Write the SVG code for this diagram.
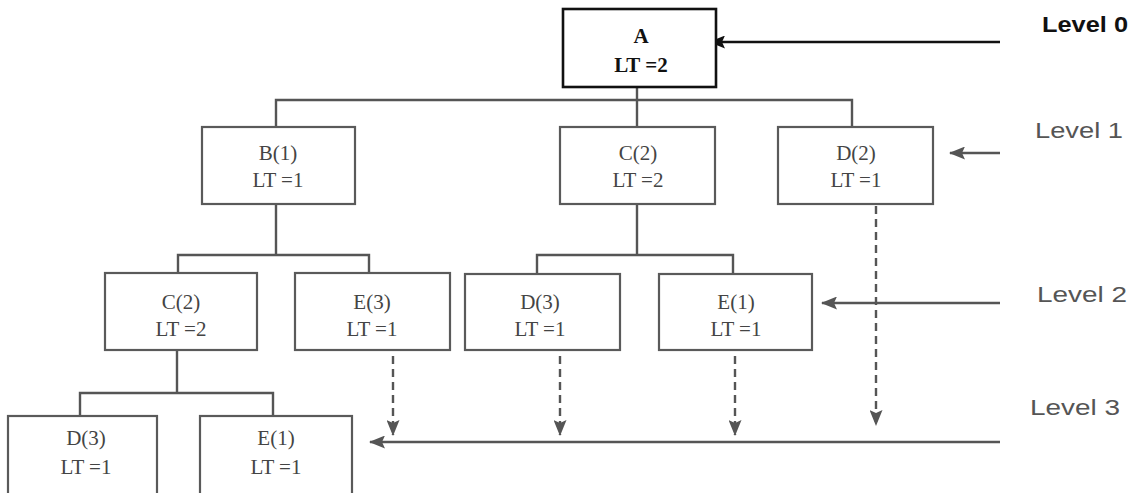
<svg xmlns="http://www.w3.org/2000/svg" width="1139" height="493" viewBox="0 0 1139 493">
<style>
.box{fill:#fff;stroke:#5a5a5a;stroke-width:2.2}
.boxA{fill:#fff;stroke:#111;stroke-width:2.6}
.t{font-family:"Liberation Serif","Times New Roman",serif;font-size:21px;fill:#444;text-anchor:middle}
.tA{font-family:"Liberation Serif","Times New Roman",serif;font-size:21px;fill:#111;text-anchor:middle;font-weight:bold}
.lvl{font-family:"Liberation Sans",Arial,sans-serif;font-size:22px;fill:#555}
.lvl0{font-family:"Liberation Sans",Arial,sans-serif;font-size:22px;fill:#111;font-weight:bold}
.c{fill:none;stroke:#555;stroke-width:2.4}
.d{fill:none;stroke:#555;stroke-width:2.4;stroke-dasharray:8,5}
.a0{fill:none;stroke:#111;stroke-width:2.6}
</style>
<defs>
<marker id="ah" viewBox="0 0 16 13" refX="15" refY="6.5" markerWidth="16" markerHeight="13" markerUnits="userSpaceOnUse" orient="auto"><path d="M0,0 L16,6.5 L0,13 L3,6.5 z" fill="#555"/></marker>
<marker id="ahk" viewBox="0 0 16 13" refX="15" refY="6.5" markerWidth="16" markerHeight="13" markerUnits="userSpaceOnUse" orient="auto"><path d="M0,0 L16,6.5 L0,13 L3,6.5 z" fill="#111"/></marker>
</defs>
<rect width="1139" height="493" fill="#fff"/>
<g id="connectors">
<path class="c" d="M637,87 V127 M276,127 V100 H852 V127"/>
<path class="c" d="M276,204 V255 M178,273 V255 H369 V273"/>
<path class="c" d="M637,204 V255 M537,274 V255 H733 V274"/>
<path class="c" d="M177,350 V393 M80,416 V393 H273 V416"/>
<path class="a0" d="M1000,42 H710" marker-end="url(#ahk)"/>
<path class="c" d="M1000,153 H950" marker-end="url(#ah)"/>
<path class="c" d="M1000,303 H822" marker-end="url(#ah)"/>
<path class="c" d="M1000,442 H370" marker-end="url(#ah)"/>
<path class="d" d="M393,356 V435" marker-end="url(#ah)"/>
<path class="d" d="M560,356 V435" marker-end="url(#ah)"/>
<path class="d" d="M735,356 V435" marker-end="url(#ah)"/>
<path class="d" d="M876,206 V425" marker-end="url(#ah)"/>
</g>
<g id="nodeA"><rect class="boxA" x="563" y="9" width="153" height="78"/><text class="tA" x="641" y="43">A</text><text class="tA" x="641" y="72">LT =2</text></g>
<g id="nodeB1"><rect class="box" x="202" y="127" width="153" height="77"/><text class="t" x="278" y="160">B(1)</text><text class="t" x="278" y="187">LT =1</text></g>
<g id="nodeC2"><rect class="box" x="560" y="127" width="155" height="77"/><text class="t" x="638" y="160">C(2)</text><text class="t" x="638" y="187">LT =2</text></g>
<g id="nodeD2"><rect class="box" x="778" y="127" width="155" height="77"/><text class="t" x="856" y="160">D(2)</text><text class="t" x="856" y="187">LT =1</text></g>
<g id="nodeC2b"><rect class="box" x="105" y="273" width="152" height="77"/><text class="t" x="181" y="309">C(2)</text><text class="t" x="181" y="336">LT =2</text></g>
<g id="nodeE3"><rect class="box" x="295" y="273" width="155" height="77"/><text class="t" x="372" y="309">E(3)</text><text class="t" x="372" y="336">LT =1</text></g>
<g id="nodeD3"><rect class="box" x="465" y="274" width="155" height="76"/><text class="t" x="540" y="309">D(3)</text><text class="t" x="540" y="336">LT =1</text></g>
<g id="nodeE1"><rect class="box" x="659" y="274" width="153" height="76"/><text class="t" x="736" y="309">E(1)</text><text class="t" x="736" y="336">LT =1</text></g>
<g id="nodeD3b"><rect class="box" x="8" y="416" width="149" height="80"/><text class="t" x="86" y="445">D(3)</text><text class="t" x="86" y="474">LT =1</text></g>
<g id="nodeE1b"><rect class="box" x="200" y="416" width="152" height="80"/><text class="t" x="276" y="445">E(1)</text><text class="t" x="276" y="474">LT =1</text></g>
<g id="levels">
<text class="lvl0" x="1042" y="32" textLength="86" lengthAdjust="spacingAndGlyphs">Level 0</text>
<text class="lvl" x="1035" y="138" textLength="88" lengthAdjust="spacingAndGlyphs">Level 1</text>
<text class="lvl" x="1037" y="302" textLength="90" lengthAdjust="spacingAndGlyphs">Level 2</text>
<text class="lvl" x="1030" y="415" textLength="90" lengthAdjust="spacingAndGlyphs">Level 3</text>
</g>
</svg>
